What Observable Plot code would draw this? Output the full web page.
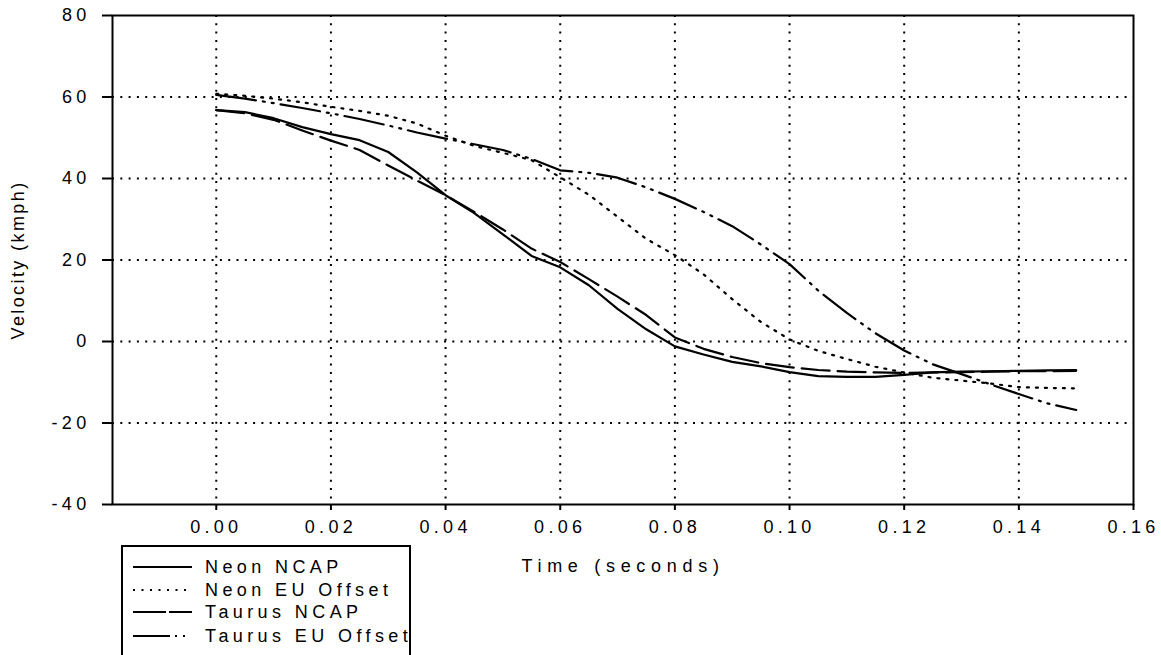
<!DOCTYPE html>
<html><head><meta charset="utf-8">
<script src="https://cdn.jsdelivr.net/npm/d3@7"></script>
<script src="https://cdn.jsdelivr.net/npm/@observablehq/plot@0.6"></script>
<style>
body{margin:0;background:#fff;}
#wrap{position:relative;width:1161px;height:655px;overflow:hidden;background:#fff;}
#wrap svg{position:absolute;left:0;top:0;}
</style></head><body><div id="wrap"></div>
<script>
// time (seconds)
const time = [0, 0.005, 0.01, 0.015, 0.02, 0.025, 0.03, 0.035, 0.04, 0.045, 0.05, 0.055, 0.06, 0.065, 0.07, 0.075, 0.08, 0.085, 0.09, 0.095, 0.10, 0.105, 0.11, 0.115, 0.12, 0.125, 0.13, 0.135, 0.14, 0.145, 0.15];
// velocity (kmph) per series
const neonNCAP   = [56.8, 56.3, 54.8, 52.6, 50.9, 49.4, 46.5, 41.5, 35.9, 31.5, 26.3, 21.0, 18.2, 13.8, 8.0, 3.0, -1.2, -3.2, -5.0, -6.1, -7.5, -8.5, -8.7, -8.7, -8.2, -7.6, -7.4, -7.3, -7.2, -7.1, -7.0];
const neonEU     = [60.8, 60.3, 59.6, 58.7, 57.6, 56.6, 55.4, 53.5, 50.5, 48.0, 46.3, 44.5, 40.3, 36.0, 30.6, 25.2, 21.2, 16.5, 10.4, 4.8, 0.5, -2.3, -4.3, -6.2, -7.6, -8.9, -9.6, -10.3, -11.2, -11.4, -11.5];
const taurusNCAP = [56.8, 56.0, 54.4, 51.8, 49.3, 47.0, 43.2, 39.5, 35.9, 31.8, 27.5, 22.8, 19.5, 15.3, 11.0, 6.5, 1.0, -1.8, -3.8, -5.3, -6.3, -7.0, -7.4, -7.6, -7.7, -7.6, -7.5, -7.4, -7.3, -7.3, -7.2];
const taurusEU   = [60.5, 59.6, 58.5, 57.3, 56.0, 54.6, 53.0, 51.3, 49.8, 48.4, 47.0, 44.8, 42.0, 41.4, 40.2, 37.8, 35.0, 31.8, 28.3, 23.8, 19.0, 12.5, 7.0, 2.0, -2.2, -5.6, -8.0, -10.5, -12.9, -15.2, -16.8];

const seriesNames = ["Neon NCAP", "Neon EU Offset", "Taurus NCAP", "Taurus EU Offset"];
const seriesValues = [neonNCAP, neonEU, taurusNCAP, taurusEU];
const xTicks = [0, 0.02, 0.04, 0.06, 0.08, 0.10, 0.12, 0.14, 0.16];
const yTicks = [-40, -20, 0, 20, 40, 60, 80];
const xLabel = "Time (seconds)";
const yLabel = "Velocity (kmph)";

const dashes = [null, "2,7", "28,8", "40,7,2,7,2,7"];
const legendDashes = [null, "2,6.5", "33,3", "37,5,2,6,2,20"];
const font = "'Liberation Sans', Arial, Helvetica, sans-serif";

const rows = vals => time.map((t, i) => ({t, v: vals[i]}));

const lineMarks = seriesValues.map((vals, i) =>
  Plot.line(rows(vals), {x: "t", y: "v", stroke: "#000", strokeWidth: 2.2, strokeDasharray: dashes[i], strokeLinejoin: "round"}));

const chart = Plot.plot({
  width: 1161, height: 655,
  marginLeft: 112, marginRight: 28, marginTop: 15, marginBottom: 151,
  style: {fontFamily: font, fontSize: "18px", letterSpacing: "4.3px", color: "#000", background: "#fff"},
  x: {domain: [-0.0181, 0.16]},
  y: {domain: [-40, 80]},
  marks: [
    Plot.ruleX(xTicks.filter(d => d < 0.16), {stroke: "#000", strokeWidth: 2, strokeDasharray: "2,6.3"}),
    Plot.ruleY(yTicks.filter(d => d > -40 && d < 80), {stroke: "#000", strokeWidth: 2, strokeDasharray: "2,6.3"}),
    Plot.axisX({ticks: xTicks, tickSize: 6, tickPadding: 10, tickFormat: d => d.toFixed(2), strokeWidth: 2, fontSize: 18, label: null}),
    Plot.axisY({ticks: yTicks, tickSize: 10, tickPadding: 12, tickFormat: d => String(d), strokeWidth: 2, fontSize: 18, label: null}),
    ...lineMarks,
    Plot.frame({stroke: "#000", strokeWidth: 2}),
    Plot.text([yLabel], {frameAnchor: "left", dx: -94, rotate: -90, textAnchor: "middle", lineAnchor: "middle", fontSize: 18, text: d => d, fill: "#000"}),
    Plot.text([xLabel], {frameAnchor: "bottom", dy: 62, textAnchor: "middle", lineAnchor: "middle", fontSize: 18, text: d => d, fill: "#000"})
  ]
});

document.getElementById("wrap").appendChild(chart);

// adjust letter spacing of axis titles
d3.select(chart).selectAll("text").each(function() {
  const t = this.textContent;
  if (t === yLabel) this.style.letterSpacing = "2.4px";
  if (t === xLabel) this.style.letterSpacing = "5.7px";
});

// legend overlay
const leg = d3.select("#wrap").append("svg")
  .attr("width", 1161).attr("height", 655)
  .style("font-family", font).style("font-size", "18px").style("letter-spacing", "4.4px");
leg.append("path").attr("d", "M122,656V546H410V656").attr("fill", "none").attr("stroke", "#000").attr("stroke-width", 2);
const rowY = [567, 590, 612, 636];
seriesNames.forEach((name, i) => {
  leg.append("line").attr("x1", 133).attr("x2", 192).attr("y1", rowY[i]).attr("y2", rowY[i])
    .attr("stroke", "#000").attr("stroke-width", 2).attr("stroke-dasharray", legendDashes[i]);
  leg.append("text").attr("x", 205).attr("y", rowY[i]).attr("dy", "0.35em").attr("fill", "#000").text(name);
});
</script>
</body></html>
